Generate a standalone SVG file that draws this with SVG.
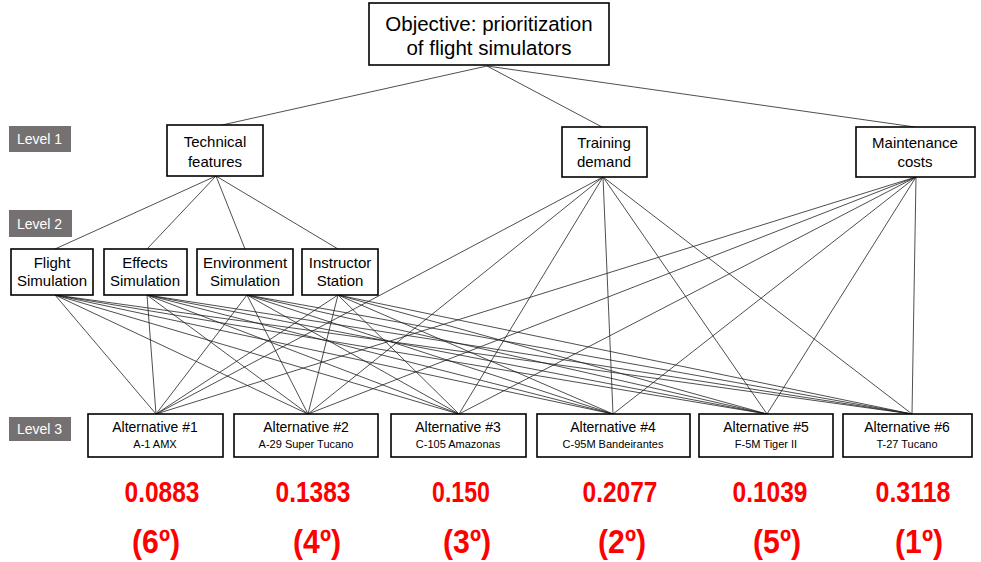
<svg xmlns="http://www.w3.org/2000/svg" width="981" height="562" viewBox="0 0 981 562">
<style>
text{font-family:"Liberation Sans",Arial,sans-serif;fill:#000}
.box{fill:#fff;stroke:#000;stroke-width:1.6}
.lvl{fill:#767171}
.lt{fill:#fff;font-size:14px}
.t15{font-size:15px;text-anchor:middle}
.t14{font-size:14px;text-anchor:middle}
.t10{font-size:11px;text-anchor:middle}
.obj{font-size:20.5px;text-anchor:middle}
.red{font-weight:bold;fill:#ff0000;font-size:30px;text-anchor:middle}
.rk{font-size:33px}
.c line{stroke:#222;stroke-width:0.8}
</style>
<rect width="981" height="562" fill="#fff"/>
<g class="c" id="connectors">
<line x1="487" y1="66" x2="222" y2="125"/>
<line x1="487" y1="66" x2="602" y2="127"/>
<line x1="487" y1="66" x2="915" y2="127"/>
<line x1="216" y1="176" x2="55" y2="249"/>
<line x1="216" y1="176" x2="147" y2="249"/>
<line x1="216" y1="176" x2="245" y2="249"/>
<line x1="216" y1="176" x2="338" y2="249"/>
<line x1="55" y1="295" x2="156" y2="414"/><line x1="55" y1="295" x2="308" y2="414"/><line x1="55" y1="295" x2="459" y2="414"/><line x1="55" y1="295" x2="613" y2="414"/><line x1="55" y1="295" x2="767" y2="414"/><line x1="55" y1="295" x2="912" y2="414"/>
<line x1="147" y1="295" x2="156" y2="414"/><line x1="147" y1="295" x2="308" y2="414"/><line x1="147" y1="295" x2="459" y2="414"/><line x1="147" y1="295" x2="613" y2="414"/><line x1="147" y1="295" x2="767" y2="414"/><line x1="147" y1="295" x2="912" y2="414"/>
<line x1="247" y1="295" x2="156" y2="414"/><line x1="247" y1="295" x2="308" y2="414"/><line x1="247" y1="295" x2="459" y2="414"/><line x1="247" y1="295" x2="613" y2="414"/><line x1="247" y1="295" x2="767" y2="414"/><line x1="247" y1="295" x2="912" y2="414"/>
<line x1="338" y1="295" x2="156" y2="414"/><line x1="338" y1="295" x2="308" y2="414"/><line x1="338" y1="295" x2="459" y2="414"/><line x1="338" y1="295" x2="613" y2="414"/><line x1="338" y1="295" x2="767" y2="414"/><line x1="338" y1="295" x2="912" y2="414"/>
<line x1="603" y1="177" x2="156" y2="414"/><line x1="603" y1="177" x2="308" y2="414"/><line x1="603" y1="177" x2="459" y2="414"/><line x1="603" y1="177" x2="613" y2="414"/><line x1="603" y1="177" x2="767" y2="414"/><line x1="603" y1="177" x2="912" y2="414"/>
<line x1="916" y1="177" x2="156" y2="414"/><line x1="916" y1="177" x2="308" y2="414"/><line x1="916" y1="177" x2="459" y2="414"/><line x1="916" y1="177" x2="613" y2="414"/><line x1="916" y1="177" x2="767" y2="414"/><line x1="916" y1="177" x2="912" y2="414"/>
</g>
<g id="level1"><rect class="lvl" x="9" y="126" width="62" height="26"/><text class="lt" x="17" y="144">Level 1</text></g>
<g id="level2"><rect class="lvl" x="9" y="210" width="63" height="27"/><text class="lt" x="17" y="229">Level 2</text></g>
<g id="level3"><rect class="lvl" x="9" y="417" width="62" height="24"/><text class="lt" x="17" y="434">Level 3</text></g>
<g id="objective"><rect class="box" x="369" y="3" width="240" height="62"/><text class="obj" x="489" y="31">Objective: prioritization</text><text class="obj" x="489" y="55">of flight simulators</text></g>
<g id="technical"><rect class="box" x="167" y="125" width="96" height="51"/><text class="t15" x="215" y="147">Technical</text><text class="t15" x="215" y="167">features</text></g>
<g id="training"><rect class="box" x="562" y="127" width="85" height="50"/><text class="t15" x="604" y="148">Training</text><text class="t15" x="604" y="167">demand</text></g>
<g id="maintenance"><rect class="box" x="856" y="127" width="119" height="50"/><text class="t15" x="915" y="148">Maintenance</text><text class="t15" x="915" y="167">costs</text></g>
<g id="flight"><rect class="box" x="11" y="249" width="82" height="46"/><text class="t15" x="52" y="268">Flight</text><text class="t15" x="52" y="286">Simulation</text></g>
<g id="effects"><rect class="box" x="104" y="249" width="83" height="46"/><text class="t15" x="145" y="268">Effects</text><text class="t15" x="145" y="286">Simulation</text></g>
<g id="environment"><rect class="box" x="197" y="249" width="96" height="46"/><text class="t15" x="245" y="268">Environment</text><text class="t15" x="245" y="286">Simulation</text></g>
<g id="instructor"><rect class="box" x="302" y="249" width="76" height="46"/><text class="t15" x="340" y="268">Instructor</text><text class="t15" x="340" y="286">Station</text></g>
<g id="alt1"><rect class="box" x="88" y="414" width="135" height="43"/><text class="t14" x="155" y="432">Alternative #1</text><text class="t10" x="155" y="448">A-1 AMX</text></g>
<g id="alt2"><rect class="box" x="234" y="414" width="144" height="43"/><text class="t14" x="306" y="432">Alternative #2</text><text class="t10" x="306" y="448">A-29 Super Tucano</text></g>
<g id="alt3"><rect class="box" x="391" y="414" width="135" height="43"/><text class="t14" x="458" y="432">Alternative #3</text><text class="t10" x="458" y="448">C-105 Amazonas</text></g>
<g id="alt4"><rect class="box" x="537" y="414" width="153" height="43"/><text class="t14" x="613" y="432">Alternative #4</text><text class="t10" x="613" y="448">C-95M Bandeirantes</text></g>
<g id="alt5"><rect class="box" x="699" y="414" width="134" height="43"/><text class="t14" x="766" y="432">Alternative #5</text><text class="t10" x="766" y="448">F-5M Tiger II</text></g>
<g id="alt6"><rect class="box" x="843" y="414" width="129" height="43"/><text class="t14" x="907" y="432">Alternative #6</text><text class="t10" x="907" y="448">T-27 Tucano</text></g>
<g id="scores">
<text class="red" x="162" y="502" textLength="75" lengthAdjust="spacingAndGlyphs">0.0883</text>
<text class="red" x="313" y="502" textLength="75" lengthAdjust="spacingAndGlyphs">0.1383</text>
<text class="red" x="461" y="502" textLength="58" lengthAdjust="spacingAndGlyphs">0.150</text>
<text class="red" x="620" y="502" textLength="75" lengthAdjust="spacingAndGlyphs">0.2077</text>
<text class="red" x="770" y="502" textLength="75" lengthAdjust="spacingAndGlyphs">0.1039</text>
<text class="red" x="913" y="502" textLength="75" lengthAdjust="spacingAndGlyphs">0.3118</text>
<text class="red rk" x="156" y="553" textLength="48" lengthAdjust="spacingAndGlyphs">(6º)</text>
<text class="red rk" x="317" y="553" textLength="48" lengthAdjust="spacingAndGlyphs">(4º)</text>
<text class="red rk" x="467" y="553" textLength="48" lengthAdjust="spacingAndGlyphs">(3º)</text>
<text class="red rk" x="622" y="553" textLength="48" lengthAdjust="spacingAndGlyphs">(2º)</text>
<text class="red rk" x="777" y="553" textLength="48" lengthAdjust="spacingAndGlyphs">(5º)</text>
<text class="red rk" x="919" y="553" textLength="48" lengthAdjust="spacingAndGlyphs">(1º)</text>
</g>
</svg>
